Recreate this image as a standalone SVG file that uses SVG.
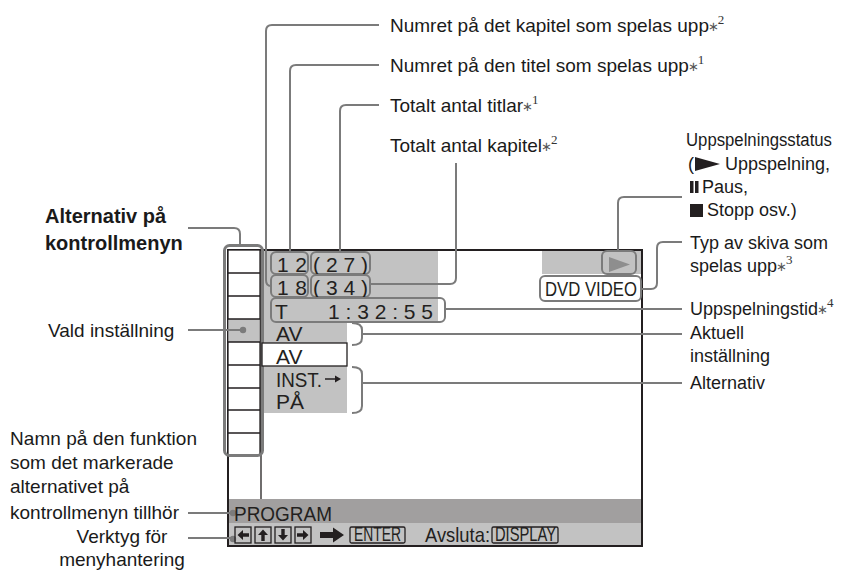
<svg xmlns="http://www.w3.org/2000/svg" width="843" height="571" viewBox="0 0 843 571">
<style>
.lbl{font-family:"Liberation Sans",Arial,sans-serif;font-size:19px;fill:#1a1a1a}
.rl{font-family:"Liberation Sans",Arial,sans-serif;font-size:18px;fill:#1a1a1a}
.bold{font-family:"Liberation Sans",Arial,sans-serif;font-size:20px;font-weight:bold;fill:#1a1a1a}
.ast{font-family:"DejaVu Sans",sans-serif;font-size:13px;fill:#555}
.sup{font-family:"Liberation Serif","Times New Roman",serif;font-size:13px;fill:#333}
.d{font-family:"Liberation Sans",Arial,sans-serif;font-size:21px;fill:#231f20}
.ld{fill:none;stroke:#7b7b7b;stroke-width:2}
.bx{fill:none;stroke:#7b7b7b;stroke-width:2}
.blk{fill:none;stroke:#231f20;stroke-width:1.3}
.g{fill:#c2c2c2}
.dot{fill:#7b7b7b}
.ic{fill:#231f20}
</style>

<g id="screen">
  <rect x="228" y="250" width="414" height="296" fill="#ffffff"/>
  <rect class="g" x="262" y="251" width="176" height="70"/>
  <rect class="g" x="262" y="321" width="85" height="22"/>
  <rect class="g" x="262" y="366" width="85" height="47"/>
  <rect class="g" x="542" y="251" width="100" height="23"/>
  <rect x="228" y="499" width="414" height="24" fill="#a19f9f"/>
  <rect class="g" x="228" y="523" width="414" height="23"/>
  <line x1="261" y1="250" x2="261" y2="499" stroke="#231f20" stroke-width="1.3"/>
  <rect x="228" y="250" width="414" height="296" fill="none" stroke="#231f20" stroke-width="2"/>
</g>

<g id="menu-column">
  <rect x="228" y="250" width="32" height="205" fill="#ffffff" stroke="#231f20" stroke-width="1.3"/>
  <rect class="g" x="228.6" y="319" width="31" height="23"/>
  <path class="blk" d="M228,273H260M228,296H260M228,319H260M228,342H260M228,365H260M228,388H260M228,410H260M228,433H260"/>
  <rect x="224.5" y="245.5" width="38" height="210" rx="5" fill="none" stroke="#7b7b7b" stroke-width="3"/>
  <circle class="dot" cx="243" cy="330" r="3.2"/>
</g>

<g id="chapter-title-row">
  <rect class="bx" x="271" y="252" width="37" height="22" rx="5"/>
  <rect class="bx" x="311" y="252" width="59" height="22" rx="5"/>
  <text class="d" x="277" y="272" textLength="30">1 2</text>
  <text class="d" x="313" y="272" textLength="55">( 2 7 )</text>
  <rect class="bx" x="271" y="275" width="37" height="22" rx="5"/>
  <rect class="bx" x="311" y="275" width="59" height="22" rx="5"/>
  <text class="d" x="277" y="295" textLength="30">1 8</text>
  <text class="d" x="313" y="295" textLength="55">( 3 4 )</text>
</g>

<g id="time-row">
  <rect class="bx" x="271" y="298" width="174" height="24" rx="5"/>
  <text class="d" x="275" y="319">T</text>
  <text class="d" x="328" y="319" textLength="105">1 : 3 2 : 5 5</text>
</g>

<g id="settings">
  <text class="d" x="276" y="341" font-size="20">AV</text>
  <rect x="262" y="343" width="85" height="23" fill="#ffffff" stroke="#231f20" stroke-width="1.3"/>
  <text class="d" x="276" y="364" font-size="20">AV</text>
  <text class="d" x="276" y="387" font-size="20" textLength="46" lengthAdjust="spacingAndGlyphs">INST.</text>
  <path d="M325,379H336" stroke="#231f20" stroke-width="1.5"/>
  <polygon class="ic" points="341,379 335,375.5 335,382.5"/>
  <text class="d" x="276" y="409" font-size="20">PÅ</text>
</g>

<g id="status">
  <rect class="bx" x="602" y="251" width="34" height="23" rx="5"/>
  <polygon points="609,257 630,264.5 609,272" fill="#8e8e8e"/>
  <rect class="bx" x="540" y="276" width="101" height="25" rx="5"/>
  <text class="d" x="545" y="296" font-size="22" textLength="92" lengthAdjust="spacingAndGlyphs">DVD VIDEO</text>
</g>

<g id="program-bar">
  <circle class="dot" cx="233" cy="513" r="3.2"/>
  <text class="d" x="234" y="521" font-size="22" textLength="98" lengthAdjust="spacingAndGlyphs">PROGRAM</text>
</g>

<g id="tool-bar">
  <circle class="dot" cx="233" cy="539" r="3.2"/>
  <rect class="blk" x="235" y="527" width="16" height="16"/>
  <rect class="blk" x="255" y="527" width="16" height="16"/>
  <rect class="blk" x="275" y="527" width="16" height="16"/>
  <rect class="blk" x="295" y="527" width="16" height="16"/>
  <polygon class="ic" points="237.5,535 243,530 243,533.3 249,533.3 249,536.7 243,536.7 243,540"/>
  <polygon class="ic" points="263,529.5 268,535 264.7,535 264.7,541 261.3,541 261.3,535 258,535"/>
  <polygon class="ic" points="283,540.5 288,535 284.7,535 284.7,529 281.3,529 281.3,535 278,535"/>
  <polygon class="ic" points="308.5,535 303,530 303,533.3 297,533.3 297,536.7 303,536.7 303,540"/>
  <polygon class="ic" points="320,532 333,532 333,527.5 344,535 333,542.5 333,538 320,538"/>
  <rect class="blk" x="350" y="527" width="55" height="16" rx="1.5"/>
  <text class="d" x="354" y="541" font-size="16" textLength="47" lengthAdjust="spacingAndGlyphs">ENTER</text>
  <text class="d" x="425" y="542" font-size="19" textLength="65" lengthAdjust="spacingAndGlyphs">Avsluta:</text>
  <rect class="blk" x="492" y="527" width="66" height="16" rx="1.5"/>
  <text class="d" x="495" y="541" font-size="16" textLength="61" lengthAdjust="spacingAndGlyphs">DISPLAY</text>
</g>

<g id="connectors">
  <path class="ld" d="M188,228H234Q240,228 240,234V245"/>
  <path class="ld" d="M188,330H243"/>
  <path class="ld" d="M188,513H233"/>
  <path class="ld" d="M188,538H233"/>
  <path class="ld" d="M379,25H272Q266,25 266,31V280Q266,286 271,286"/>
  <path class="ld" d="M379,65H296Q290,65 290,71V252"/>
  <path class="ld" d="M379,105H346Q340,105 340,111V252"/>
  <path class="ld" d="M456,163V278Q456,284 450,284H371"/>
  <path class="ld" d="M682,197H624Q618,197 618,203V251"/>
  <path class="ld" d="M682,242H663Q657,242 657,248V283Q657,289 651,289H641"/>
  <path class="ld" d="M445,309H682"/>
  <path class="ld" d="M352,323Q362,323 362,330V338Q362,345 352,345"/>
  <path class="ld" d="M362,334H682"/>
  <path class="ld" d="M352,367Q362,367 362,374V406Q362,413 352,413"/>
  <path class="ld" d="M362,383H682"/>
</g>

<g id="label-chapter"><text class="lbl" x="390" y="32">Numret på det kapitel som spelas upp<tspan class="ast" dx="-1" dy="-1">∗</tspan><tspan class="sup" dx="-1" dy="-7">2</tspan></text></g>
<g id="label-title"><text class="lbl" x="390" y="72">Numret på den titel som spelas upp<tspan class="ast" dx="-1" dy="-1">∗</tspan><tspan class="sup" dx="-1" dy="-7">1</tspan></text></g>
<g id="label-total-titles"><text class="lbl" x="390" y="112">Totalt antal titlar<tspan class="ast" dx="-1" dy="-1">∗</tspan><tspan class="sup" dx="-1" dy="-7">1</tspan></text></g>
<g id="label-total-chapters"><text class="lbl" x="390" y="152">Totalt antal kapitel<tspan class="ast" dx="-1" dy="-1">∗</tspan><tspan class="sup" dx="-1" dy="-7">2</tspan></text></g>

<g id="label-status">
  <text class="rl" x="686" y="146" textLength="146" lengthAdjust="spacingAndGlyphs">Uppspelningsstatus</text>
  <text class="rl" x="688" y="170">(</text>
  <polygon class="ic" points="695,157 720,164 695,171"/>
  <text class="rl" x="725" y="170">Uppspelning,</text>
  <rect class="ic" x="690" y="181" width="3.5" height="12"/>
  <rect class="ic" x="695" y="181" width="3.5" height="12"/>
  <text class="rl" x="702" y="193">Paus,</text>
  <rect class="ic" x="690" y="204" width="13" height="13"/>
  <text class="rl" x="707" y="216">Stopp osv.)</text>
</g>
<g id="label-disc"><text class="rl" x="690" y="249">Typ av skiva som</text><text class="rl" x="690" y="272">spelas upp<tspan class="ast" dx="-1" dy="-1">∗</tspan><tspan class="sup" dx="-1" dy="-7">3</tspan></text></g>
<g id="label-time"><text class="rl" x="690" y="315">Uppspelningstid<tspan class="ast" dx="-1" dy="-1">∗</tspan><tspan class="sup" dx="-1" dy="-7">4</tspan></text></g>
<g id="label-current"><text class="rl" x="690" y="339">Aktuell</text><text class="rl" x="690" y="362">inställning</text></g>
<g id="label-options"><text class="rl" x="690" y="389">Alternativ</text></g>

<g id="label-menu"><text class="bold" x="45" y="223">Alternativ på</text><text class="bold" x="45" y="250">kontrollmenyn</text></g>
<g id="label-selected"><text class="lbl" x="48" y="337">Vald inställning</text></g>
<g id="label-function">
  <text class="lbl" x="10" y="445" textLength="187">Namn på den funktion</text>
  <text class="lbl" x="10" y="469">som det markerade</text>
  <text class="lbl" x="10" y="493">alternativet på</text>
  <text class="lbl" x="10" y="519">kontrollmenyn tillhör</text>
</g>
<g id="label-tools"><text class="lbl" x="122" y="543" text-anchor="middle">Verktyg för</text><text class="lbl" x="122" y="566" text-anchor="middle">menyhantering</text></g>
</svg>
